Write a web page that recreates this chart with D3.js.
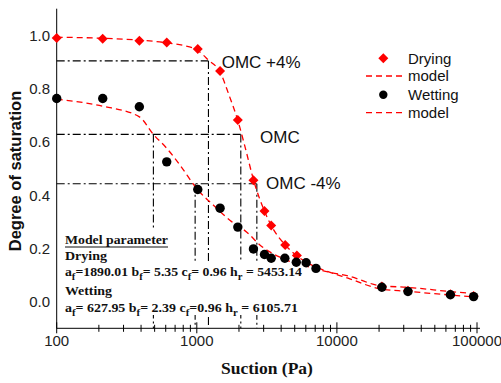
<!DOCTYPE html>
<html><head><meta charset="utf-8">
<script src="https://cdn.jsdelivr.net/npm/d3@7"></script>
<style>body{margin:0;background:#fff}svg{display:block}</style>
</head><body><svg id="c" width="501" height="383"></svg>
<script>
// ---- data ----
const xTicks = [100, 1000, 10000, 100000];
const yTicks = [0.0, 0.2, 0.4, 0.6, 0.8, 1.0];

const dryingSuction = [100, 213, 389, 610, 1016, 1466, 1963, 2537, 3041, 3397, 4275, 5180, 20950, 32150, 64600, 94600];
const dryingSat     = [0.990, 0.987, 0.980, 0.973, 0.949, 0.866, 0.682, 0.456, 0.340, 0.286, 0.213, 0.173, 0.057, 0.041, 0.028, 0.021];

const wettingSuction = [100, 213, 389, 610, 1016, 1466, 1963, 2537, 3041, 3397, 4250, 5130, 6030, 7090, 20950, 32150, 64600, 94600];
const wettingSat     = [0.763, 0.763, 0.732, 0.525, 0.421, 0.351, 0.280, 0.198, 0.177, 0.163, 0.163, 0.148, 0.146, 0.125, 0.054, 0.038, 0.026, 0.019];

const dryModelSuction = [100, 213, 389, 610, 800, 1016, 1211, 1466, 1700, 1963, 2250, 2537, 3041, 3397, 4275, 5180, 6460, 8950, 12000, 20400, 31600, 64600, 100000];
const dryModelSat     = [0.993, 0.989, 0.982, 0.972, 0.962, 0.943, 0.907, 0.862, 0.775, 0.680, 0.565, 0.458, 0.340, 0.286, 0.213, 0.172, 0.140, 0.110, 0.088, 0.048, 0.039, 0.025, 0.017];

const wetModelSuction = [100, 213, 389, 490, 610, 761, 1000, 1315, 1730, 2275, 2832, 4160, 6460, 8950, 11790, 20400, 31600, 64600, 100000];
const wetModelSat     = [0.760, 0.734, 0.694, 0.628, 0.576, 0.512, 0.424, 0.362, 0.305, 0.261, 0.212, 0.161, 0.129, 0.110, 0.098, 0.060, 0.054, 0.038, 0.029];

// OMC reference levels (dash-dot guides)
const omcLabels   = ["OMC +4%", "OMC", "OMC -4%"];
const omcSat      = [0.904, 0.628, 0.443];
const omcDrySuction = [1211, 2061, 2683];
const omcWetSuction = [null, 490, 973];

const legendLabels = ["Drying", "model", "Wetting", "model"];

const paramTitle = "Model parameter";
const dryingTitle = "Drying";
const wettingTitle = "Wetting";
const dryingParams = [["a","f","=1890.01 "],["b","f","= 5.35 "],["c","f","= 0.96 "],["h","r"," = 5453.14"]];
const wettingParams = [["a","f","= 627.95 "],["b","f","= 2.39 "],["c","f","=0.96  "],["h","r"," = 6105.71"]];

// ---- chart ----
const svg = d3.select("#c");
const x = d3.scaleLog().domain([100, 100000]).range([56.7, 477]);
const y = d3.scaleLinear().domain([-0.1, 1.1]).range([328.3, 8.7]);
const red = "#ff0000";
const sans = "Arial, 'Liberation Sans', sans-serif";
const serif = "'Times New Roman', 'Liberation Serif', serif";

// dash-dot guides
const g = svg.append("g").attr("fill","none").attr("stroke","#000").attr("stroke-width",1.1).attr("stroke-dasharray","8,3,2,3");
omcSat.forEach((s,i)=>{
  g.append("line").attr("x1",x(100)).attr("x2",x(omcDrySuction[i])).attr("y1",y(s)).attr("y2",y(s));
  g.append("line").attr("x1",x(omcDrySuction[i])).attr("x2",x(omcDrySuction[i])).attr("y1",y(s)).attr("y2",y(-0.1));
  if (omcWetSuction[i]) g.append("line").attr("x1",x(omcWetSuction[i])).attr("x2",x(omcWetSuction[i])).attr("y1",y(s)).attr("y2",y(-0.1));
});

// parameter text block with white background
const tb = svg.append("g").attr("font-family",serif).attr("font-weight","bold").attr("font-size",13).attr("fill","#111");
const bgG = tb.append("g");
const tx = 65;
const t0 = tb.append("text").attr("x",tx).attr("y",244).attr("textLength",103).attr("lengthAdjust","spacingAndGlyphs").text(paramTitle);
const t1 = tb.append("text").attr("x",tx).attr("y",259.5).attr("textLength",42).attr("lengthAdjust","spacingAndGlyphs").text(dryingTitle);
function paramLine(yy, params, len){
  const t = tb.append("text").attr("x",tx).attr("y",yy).attr("textLength",len).attr("lengthAdjust","spacingAndGlyphs");
  params.forEach(p=>{
    t.append("tspan").text(p[0]);
    t.append("tspan").attr("font-size",10).attr("dy",4).text(p[1]);
    t.append("tspan").attr("dy",-4).text(p[2]);
  });
  return t;
}
const t2 = paramLine(276, dryingParams, 237);
const t3 = tb.append("text").attr("x",tx).attr("y",295).attr("textLength",47).attr("lengthAdjust","spacingAndGlyphs").text(wettingTitle);
const t4 = paramLine(311.5, wettingParams, 233);
const b0 = t0.node().getBBox();
tb.append("line").attr("x1",tx).attr("x2",tx+103).attr("y1",247).attr("y2",247).attr("stroke","#111").attr("stroke-width",1.2);
bgG.append("rect").attr("x",tx-3).attr("y",b0.y-2).attr("width",109).attr("height",262-(b0.y-2)).attr("fill","#fff");
const bx0 = tx-3, bx1 = tx+240;
bgG.append("rect").attr("x",bx0).attr("y",262).attr("width",bx1-bx0).attr("height",315-262).attr("fill","#fff");

// axes
const ax = svg.append("g").attr("stroke","#000").attr("stroke-width",1);
ax.append("line").attr("x1",x(100)).attr("x2",x(100)).attr("y1",y(1.1)).attr("y2",y(-0.1));
ax.append("line").attr("x1",x(100)).attr("x2",x(100000)+3).attr("y1",y(-0.1)).attr("y2",y(-0.1));
const minor = [];
for (let d=100; d<100000; d*=10) for (let k=2;k<=9;k++) minor.push(d*k);
minor.forEach(v=>ax.append("line").attr("x1",x(v)).attr("x2",x(v)).attr("y1",y(-0.1)-3.5).attr("y2",y(-0.1)+3.5));
xTicks.forEach(v=>ax.append("line").attr("x1",x(v)).attr("x2",x(v)).attr("y1",y(-0.1)-6).attr("y2",y(-0.1)+5));

const lab = svg.append("g").attr("font-family",sans).attr("font-size",15).attr("fill","#222");
xTicks.forEach(v=>lab.append("text").attr("x",x(v)).attr("y",346).attr("text-anchor","middle").text(d3.format("d")(v)));
yTicks.forEach(v=>lab.append("text").attr("x",50).attr("y",y(v)).attr("dy","0.36em").attr("text-anchor","end").text(v.toFixed(1)));

svg.append("text").attr("transform","translate(20.5,171) rotate(-90)").attr("text-anchor","middle")
  .attr("font-family",sans).attr("font-weight","bold").attr("font-size",16.5).attr("fill","#111").text("Degree of saturation");
svg.append("text").attr("x",267).attr("y",374).attr("text-anchor","middle")
  .attr("font-family",serif).attr("font-weight","bold").attr("font-size",17.5).attr("fill","#111").text("Suction (Pa)");

// model curves
const line = d3.line().x(d=>x(d[0])).y(d=>y(d[1])).curve(d3.curveMonotoneX);
svg.append("path").datum(d3.zip(dryModelSuction, dryModelSat)).attr("d",line)
  .attr("fill","none").attr("stroke",red).attr("stroke-width",1.3).attr("stroke-dasharray","6,4");
svg.append("path").datum(d3.zip(wetModelSuction, wetModelSat)).attr("d",line)
  .attr("fill","none").attr("stroke",red).attr("stroke-width",1.3).attr("stroke-dasharray","6,4");

// points
const diamond = d3.symbol(d3.symbolSquare, 50)();
svg.append("g").selectAll("path").data(d3.zip(dryingSuction, dryingSat)).join("path")
  .attr("d",diamond).attr("transform",d=>`translate(${x(d[0])},${y(d[1])}) rotate(45)`).attr("fill",red);
svg.append("g").selectAll("circle").data(d3.zip(wettingSuction, wettingSat)).join("circle")
  .attr("cx",d=>x(d[0])).attr("cy",d=>y(d[1])).attr("r",4.7).attr("fill","#000");

// OMC labels
const omcX = [221.7, 260, 266], omcY = [68, 142.7, 189];
omcLabels.forEach((t,i)=>svg.append("text").attr("x",omcX[i]).attr("y",omcY[i])
  .attr("font-family",sans).attr("font-size",17).attr("fill","#111").text(t));

// legend
const lg = svg.append("g");
const ly = [58.3, 76, 94.8, 112.7];
legendLabels.forEach((t,i)=>{
  lg.append("text").attr("x",408).attr("y",ly[i]).attr("dy","0.35em").attr("font-family",sans).attr("font-size",15).attr("fill","#111").text(t);
});
lg.append("path").attr("d",diamond).attr("transform",`translate(383.3,${ly[0]}) rotate(45)`).attr("fill",red);
lg.append("circle").attr("cx",383.3).attr("cy",ly[2]).attr("r",4.2).attr("fill","#000");
[1,3].forEach(i=>lg.append("line").attr("x1",366).attr("x2",402).attr("y1",ly[i]).attr("y2",ly[i])
  .attr("stroke",red).attr("stroke-width",1.3).attr("stroke-dasharray","6,4"));
</script></body></html>
